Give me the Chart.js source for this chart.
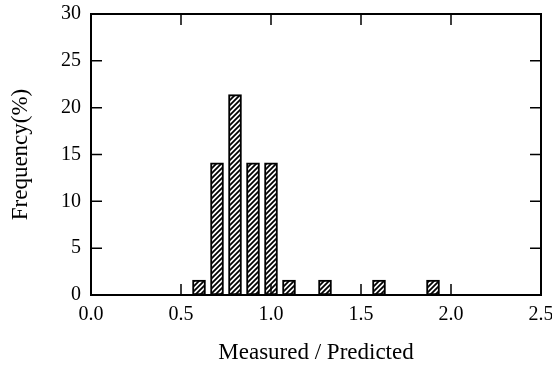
<!DOCTYPE html>
<html>
<head>
<meta charset="utf-8">
<script src="https://cdn.jsdelivr.net/npm/chart.js@4.4.1/dist/chart.umd.min.js"></script>
<style>
  html, body { margin:0; padding:0; background:#fff; }
  #wrap { width:552px; height:370px; }
</style>
</head>
<body>
<div id="wrap"><canvas id="histChart" width="552" height="370"></canvas></div>
<script>
// histogram of measured / predicted ratio
const binCenters = [0.6, 0.7, 0.8, 0.9, 1.0, 1.1, 1.3, 1.6, 1.9];
const frequency  = [1.6, 14.1, 21.4, 14.1, 14.1, 1.6, 1.6, 1.6, 1.6];
const xTicks = [0.0, 0.5, 1.0, 1.5, 2.0, 2.5];
const yTicks = [0, 5, 10, 15, 20, 25, 30];

const serif = '"Liberation Serif", "DejaVu Serif", serif';

// diagonal hatch fill
function makeHatch() {
  const c = document.createElement('canvas');
  c.width = 5; c.height = 5;
  const g = c.getContext('2d');
  g.fillStyle = '#fff';
  g.fillRect(0, 0, 5, 5);
  g.strokeStyle = '#000';
  g.lineWidth = 1.8;
  g.beginPath();
  g.moveTo(-1, 6); g.lineTo(6, -1);
  g.moveTo(-3, 3); g.lineTo(3, -3);
  g.moveTo(2, 8); g.lineTo(8, 2);
  g.stroke();
  return g.createPattern(c, 'repeat');
}

// frame + inward ticks on all four sides
const framePlugin = {
  id: 'frame',
  afterDatasetsDraw(chart) {
    const { ctx, chartArea: a, scales } = chart;
    const len = 11;
    ctx.save();
    ctx.strokeStyle = '#000';
    ctx.lineWidth = 1.5;
    ctx.beginPath();
    xTicks.slice(1, -1).forEach(v => {
      const px = scales.x.getPixelForValue(v);
      ctx.moveTo(px, a.bottom); ctx.lineTo(px, a.bottom - len);
      ctx.moveTo(px, a.top); ctx.lineTo(px, a.top + len);
    });
    yTicks.slice(1, -1).forEach(v => {
      const py = scales.y.getPixelForValue(v);
      ctx.moveTo(a.left, py); ctx.lineTo(a.left + len, py);
      ctx.moveTo(a.right, py); ctx.lineTo(a.right - len, py);
    });
    ctx.stroke();
    ctx.lineWidth = 2;
    ctx.strokeRect(a.left, a.top, a.right - a.left, a.bottom - a.top);
    ctx.restore();
  }
};

new Chart(document.getElementById('histChart').getContext('2d'), {
  type: 'bar',
  data: {
    datasets: [{
      data: binCenters.map((x, i) => ({ x: x, y: frequency[i] })),
      backgroundColor: makeHatch(),
      borderColor: '#000',
      borderWidth: 2,
      barThickness: 13,
      borderSkipped: false
    }]
  },
  options: {
    responsive: false,
    animation: false,
    layout: { padding: 0 },
    plugins: { legend: { display: false }, tooltip: { enabled: false } },
    scales: {
      x: {
        type: 'linear', min: 0, max: 2.5, offset: false,
        afterBuildTicks: s => { s.ticks = xTicks.map(v => ({ value: v })); },
        afterFit: s => { s.height = 75; s.paddingLeft = 0; s.paddingRight = 11; },
        grid: { display: false, drawTicks: false },
        border: { display: false },
        ticks: {
          color: '#000', padding: 8,
          font: { family: serif, size: 20 },
          callback: v => v.toFixed(1)
        },
        title: {
          display: true, text: 'Measured / Predicted', color: '#000',
          font: { family: serif, size: 23 },
          padding: { top: 4, bottom: 3 }
        }
      },
      y: {
        min: 0, max: 30,
        afterBuildTicks: s => { s.ticks = yTicks.map(v => ({ value: v })); },
        afterFit: s => { s.width = 91; s.paddingTop = 14; s.paddingBottom = 0; },
        grid: { display: false, drawTicks: false },
        border: { display: false },
        ticks: {
          color: '#000', padding: 10,
          font: { family: serif, size: 20 }
        },
        title: {
          display: true, text: 'Frequency(%)', color: '#000',
          font: { family: serif, size: 23 },
          padding: { top: 7, bottom: 4 }
        }
      }
    }
  },
  plugins: [framePlugin]
});
</script>
</body>
</html>
